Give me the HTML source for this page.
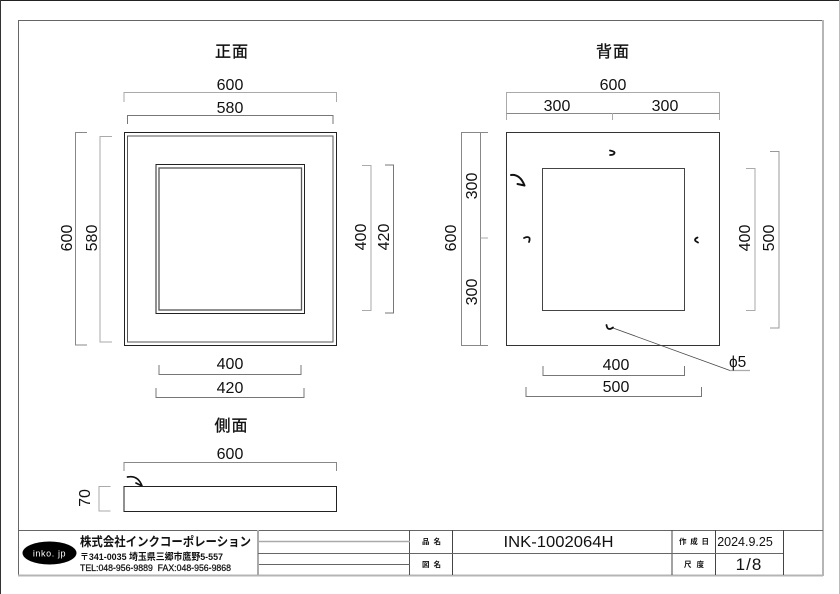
<!DOCTYPE html>
<html><head><meta charset="utf-8"><style>
html,body{margin:0;padding:0;background:#fff}
svg{display:block}
text{font-family:"Liberation Sans","Noto Sans CJK JP",sans-serif;fill:#111}
.d{font-size:16px;text-anchor:middle}
.t{font-size:16px;text-anchor:middle;letter-spacing:1px;font-weight:400;stroke:#111;stroke-width:.35}
.s{font-size:7.5px;font-weight:700}
</style></head><body>
<svg width="840" height="594" viewBox="0 0 840 594" xmlns="http://www.w3.org/2000/svg">
<rect width="840" height="594" fill="#fff"/>
<!-- page edges -->
<path d="M0 .5H840" stroke="#222" fill="none"/>
<path d="M.5 0V594" stroke="#333" fill="none"/>
<path d="M839.5 0V594" stroke="#bbb" fill="none"/>
<!-- frame -->
<g fill="none">
<path d="M18.5 576V20.5H823" stroke="#666"/>
<path d="M823 20V576M18 575.5H823" stroke="#b5b5b5" stroke-width="2"/>
<path d="M18.5 530.5H823" stroke="#666"/>
<path d="M672 530V575M715.5 530V575M783.5 530V575M452.5 530V575" stroke="#444"/>
<path d="M409.5 530V575" stroke="#555"/>
<path d="M258 530V575" stroke="#aaa" stroke-width="2"/>
<path d="M258 553.5H783M259 564.5H410" stroke="#666"/>
<path d="M259 541.5H410" stroke="#aaa" stroke-width="1.5"/>

<!-- front view -->
<rect x="124.5" y="132.5" width="212" height="213" stroke="#222"/>
<rect x="127.5" y="136" width="205.5" height="206" stroke="#555"/>
<rect x="156" y="164.5" width="148.5" height="149" stroke="#222"/>
<rect x="159" y="168" width="142.5" height="142" stroke="#555" stroke-width="1.3"/>
<path d="M124 102V92.5H336.5V102" stroke="#aaa"/>
<path d="M127.5 124V115.5H333V124" stroke="#777"/>
<path d="M87 132.5H75.5V345H87" stroke="#888"/>
<path d="M112 136.5H100V342H112" stroke="#aaa" />
<path d="M362 165.5H371V310.5H362" stroke="#aaa"/>
<path d="M385 165H393.5V313H385" stroke="#777"/>
<path d="M159 365V374.5H301V365" stroke="#777"/>
<path d="M156 388V397.5H304V388" stroke="#777"/>

<!-- back view -->
<rect x="506.5" y="132.5" width="213" height="213" stroke="#333"/>
<rect x="542.5" y="168.5" width="142" height="142" stroke="#444"/>
<path d="M506.5 120V92.5H719.5V120" stroke="#aaa"/>
<path d="M506.5 113.5H719.5" stroke="#888"/>
<path d="M612.5 113V120" stroke="#aaa"/>
<path d="M488 132.5H461.5V345.5H488" stroke="#888"/>
<path d="M480.5 132.5V345.5" stroke="#888"/>
<path d="M480.5 238H488" stroke="#aaa"/>
<path d="M746 168.5H755V310.5H746" stroke="#aaa"/>
<path d="M770 151.5H779V328H770" stroke="#999"/>
<path d="M543 366V375.5H684.5V366" stroke="#777"/>
<path d="M526 387V396.5H701.5V387" stroke="#777"/>
<path d="M613 328L730 370.5" stroke="#444" stroke-width=".8"/>
<path d="M730 370.5H750" stroke="#aaa" stroke-width="1.3"/>
<!-- hole marks -->
<g stroke="#111" stroke-width="1.8" stroke-linecap="round">
<path d="M610 150.5Q615 151.5 614.5 153Q614 155 610 155"/>
<path d="M524 238Q528 236 529.5 238Q530 240 529 242"/>
<path d="M697.5 237.5Q694 239 695.5 241L698 242.5"/>
<path d="M606.5 325Q607 329 609.5 329Q611 329 613 327.5"/>
<path d="M511 175Q520 174 524.5 185.5M517.5 184L524.5 185.5" stroke-width="2"/>
<path d="M127.5 477Q138 475 142 486M136 483L142 486" stroke-width="1.7"/>
</g>

<!-- side view -->
<rect x="124" y="486.5" width="212.5" height="25" stroke="#222"/>
<path d="M124 471V462.5H336.5V471" stroke="#888"/>
<path d="M110.5 486.5H99V511H110.5" stroke="#aaa"/>
</g>

<!-- labels -->
<text class="t" x="232" y="57">正面</text>
<text class="t" x="613" y="57">背面</text>
<text class="t" x="231.5" y="431">側面</text>

<text class="d" x="230" y="90">600</text>
<text class="d" x="230" y="113">580</text>
<text class="d" x="230" y="369">400</text>
<text class="d" x="230" y="393">420</text>
<text class="d" x="230" y="459">600</text>
<text class="d" transform="translate(72 238) rotate(-90)">600</text>
<text class="d" transform="translate(97 238) rotate(-90)">580</text>
<text class="d" transform="translate(366 237) rotate(-90)">400</text>
<text class="d" transform="translate(389 237) rotate(-90)">420</text>
<text class="d" transform="translate(90 498) rotate(-90)">70</text>

<text class="d" x="613" y="90">600</text>
<text class="d" x="557" y="111">300</text>
<text class="d" x="665" y="111">300</text>
<text class="d" x="616" y="370">400</text>
<text class="d" x="616" y="392">500</text>
<text class="d" transform="translate(456 238) rotate(-90)">600</text>
<text class="d" transform="translate(477 186) rotate(-90)">300</text>
<text class="d" transform="translate(477 292) rotate(-90)">300</text>
<text class="d" transform="translate(750 238) rotate(-90)">400</text>
<text class="d" transform="translate(774 238) rotate(-90)">500</text>
<text x="729" y="367" style="font-size:15.5px">ϕ5</text>

<!-- title block -->
<ellipse cx="49.5" cy="553" rx="27" ry="11.5" fill="#000"/>
<text x="49.5" y="556.5" style="font-size:9px;fill:#fff;text-anchor:middle;letter-spacing:.6px">inko. jp</text>
<text x="80" y="546" textLength="171" lengthAdjust="spacingAndGlyphs" style="font-size:12.5px;font-weight:700">株式会社インクコーポレーション</text>
<text x="80" y="560" textLength="143" lengthAdjust="spacingAndGlyphs" style="font-size:9.5px;font-weight:700">〒341-0035 埼玉県三郷市鷹野5-557</text>
<text x="80" y="571" textLength="151" lengthAdjust="spacingAndGlyphs" style="font-size:9.5px;font-weight:400;stroke:#111;stroke-width:.25">TEL:048-956-9889&#160;&#160;FAX:048-956-9868</text>
<text class="s" x="422" y="544" textLength="19">品 名</text>
<text class="s" x="422" y="567" textLength="19">図 名</text>
<text class="s" x="679" y="544" textLength="30">作 成 日</text>
<text class="s" x="684" y="567" textLength="20">尺 度</text>
<text x="558.5" y="547" textLength="110" lengthAdjust="spacingAndGlyphs" style="font-size:16px;text-anchor:middle">INK-1002064H</text>
<text x="745" y="546" style="font-size:12.5px;text-anchor:middle">2024.9.25</text>
<text x="749" y="570" style="font-size:17px;text-anchor:middle;letter-spacing:1px">1/8</text>
</svg>
</body></html>
